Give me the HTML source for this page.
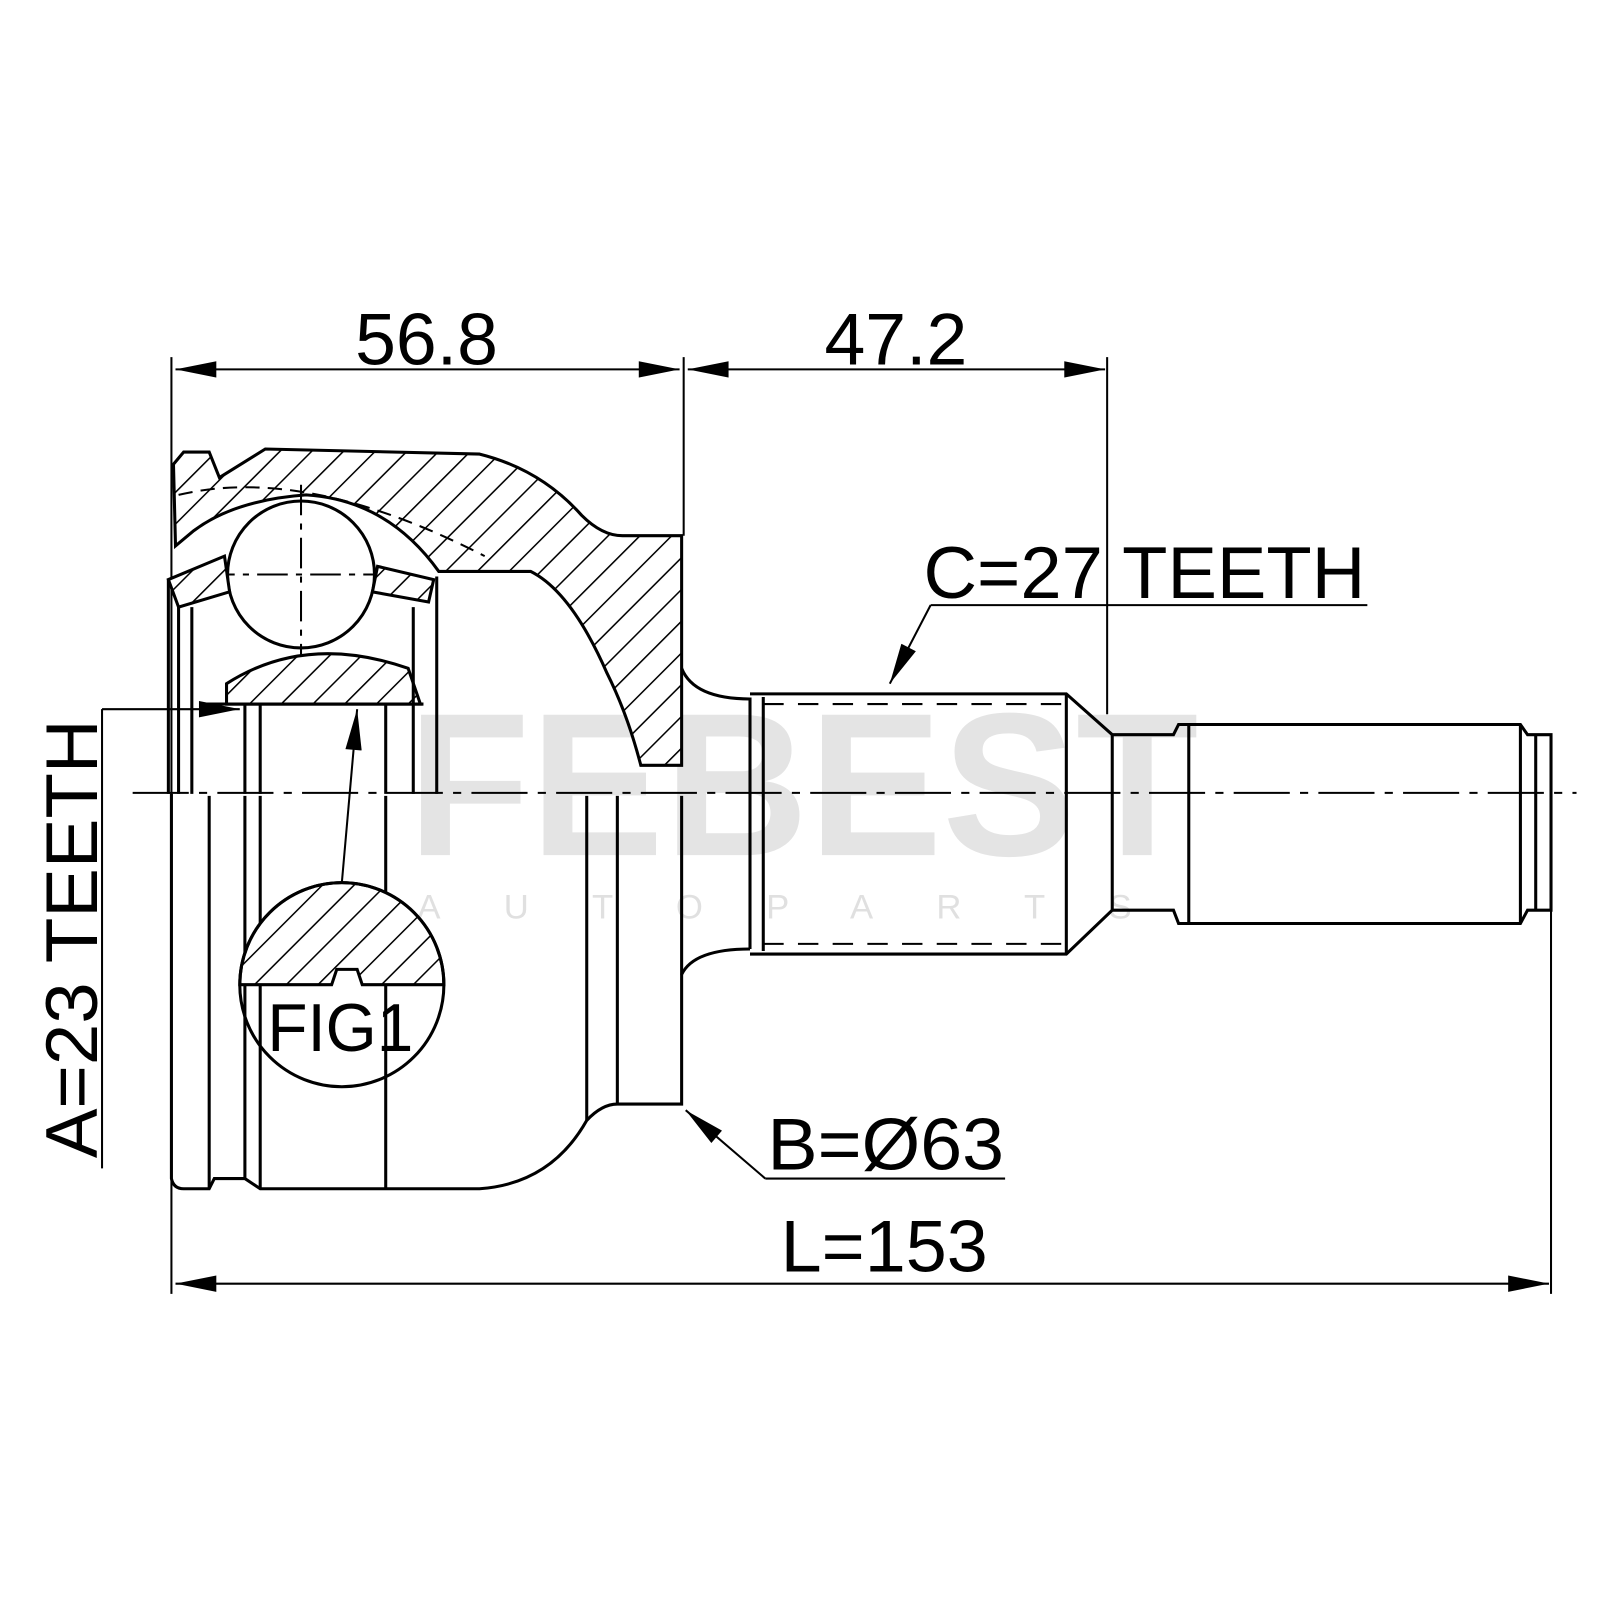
<!DOCTYPE html>
<html><head><meta charset="utf-8"><style>html,body{margin:0;padding:0;background:#fff}svg{display:block}</style></head>
<body>
<svg width="1600" height="1600" viewBox="0 0 1568 1568" xmlns="http://www.w3.org/2000/svg" font-family="Liberation Sans, Arial, sans-serif">
<defs>
<pattern id="h" width="22" height="22" patternUnits="userSpaceOnUse" patternTransform="rotate(45)">
<rect width="22" height="22" fill="#fff"/><line x1="0" y1="0" x2="0" y2="22" stroke="#000" stroke-width="3"/></pattern>
<marker id="a" viewBox="0 0 20 8" refX="20" refY="4" markerWidth="45" markerHeight="16" markerUnits="userSpaceOnUse" orient="auto-start-reverse"><path d="M0,0 L20,4 L0,8 z" fill="#000"/></marker>
</defs>
<text x="787" y="838" font-size="200" font-weight="bold" fill="#e4e4e4" text-anchor="middle" textLength="775" lengthAdjust="spacingAndGlyphs">FEBEST</text>
<text x="790" y="900" font-size="34" fill="#e0e0e0" text-anchor="middle" letter-spacing="62">AUTOPARTS</text>
<g stroke="#000" fill="none" stroke-width="3">
<line x1="168" y1="350" x2="168" y2="1268" stroke-width="2"/>
<line x1="670" y1="350" x2="670" y2="525" stroke-width="2"/>
<line x1="1085" y1="350" x2="1085" y2="700" stroke-width="2"/>
<line x1="1520" y1="890" x2="1520" y2="1268" stroke-width="2"/>
<line x1="172" y1="362" x2="666" y2="362" stroke-width="2" marker-end="url(#a)" marker-start="url(#a)"/>
<line x1="674" y1="362" x2="1083" y2="362" stroke-width="2" marker-end="url(#a)" marker-start="url(#a)"/>
<line x1="172" y1="1258" x2="1518" y2="1258" stroke-width="2" marker-end="url(#a)" marker-start="url(#a)"/>
<path d="M170,455 L180,443 L205,443 L215,468 L260,440 L470,445 Q530,460 570,505 Q590,525 610,525 L668,525 L668,750 L628,750 Q615,700 595,660 Q560,580 520,560 L430,560 Q380,490 300,485 Q230,490 190,520 L172,535 Z" fill="url(#h)"/>
<path d="M175,485 Q300,455 475,545" stroke-dasharray="14 8" stroke-width="2"/>
<circle cx="295" cy="563" r="72" fill="#fff"/>
<line x1="295" y1="475" x2="295" y2="650" stroke-width="2" stroke-dasharray="30 8 6 8"/>
<line x1="200" y1="563" x2="390" y2="563" stroke-width="2" stroke-dasharray="30 8 6 8"/>
<path d="M165,568 L220,545 L225,580 L175,595 Z" fill="url(#h)"/>
<path d="M370,555 L425,568 L420,590 L365,580 Z" fill="url(#h)"/>
<path d="M222,670 Q300,620 400,655 L412,690 L222,690 Z" fill="url(#h)"/>
<line x1="200" y1="690" x2="415" y2="690"/>
<line x1="175" y1="595" x2="175" y2="778"/><line x1="188" y1="595" x2="188" y2="778"/>
<line x1="405" y1="595" x2="405" y2="778"/><line x1="428" y1="565" x2="428" y2="778"/>
<line x1="240" y1="690" x2="240" y2="778"/><line x1="255" y1="690" x2="255" y2="778"/>
<line x1="378" y1="690" x2="378" y2="778"/>
<line x1="165" y1="568" x2="165" y2="778"/>
<path d="M168,778 L168,1155 Q170,1165 180,1165 L205,1165 L210,1155 L240,1155 L255,1165 L470,1165 Q540,1160 575,1098 Q590,1082 605,1082 L668,1082 L668,955 Q680,930 735,930"/>
<line x1="205" y1="780" x2="205" y2="1165"/><line x1="240" y1="780" x2="240" y2="1155"/>
<line x1="255" y1="780" x2="255" y2="1165"/><line x1="378" y1="780" x2="378" y2="1165"/>
<line x1="575" y1="780" x2="575" y2="1098"/><line x1="605" y1="780" x2="605" y2="1082"/>
<line x1="668" y1="780" x2="668" y2="955"/>
<path d="M668,655 Q680,685 735,685 L735,930"/>
<path d="M735,680 L1045,680 L1090,720 L1150,720 L1155,710 L1490,710 L1497,720 L1520,720 L1520,892 L1497,892 L1490,905 L1155,905 L1150,892 L1090,892 L1045,935 L735,935"/>
<line x1="748" y1="683" x2="748" y2="932"/><line x1="1045" y1="680" x2="1045" y2="935"/>
<line x1="1090" y1="720" x2="1090" y2="892"/><line x1="1165" y1="710" x2="1165" y2="905"/>
<line x1="1490" y1="710" x2="1490" y2="905"/><line x1="1505" y1="720" x2="1505" y2="892"/>
<line x1="748" y1="690" x2="1045" y2="690" stroke-width="2" stroke-dasharray="20 14"/>
<line x1="748" y1="925" x2="1045" y2="925" stroke-width="2" stroke-dasharray="20 14"/>
<line x1="130" y1="777" x2="1545" y2="777" stroke-width="2" stroke-dasharray="55 10 8 10"/>
<path d="M235,965 A100,100 0 0 1 435,965 L355,965 L350,950 L330,950 L325,965 Z" fill="url(#h)"/>
<circle cx="335" cy="965" r="100"/>
<line x1="335" y1="865" x2="350" y2="695" stroke-width="2" marker-end="url(#a)"/>
<line x1="100" y1="695" x2="100" y2="1145" stroke-width="2"/>
<line x1="100" y1="695" x2="235" y2="695" stroke-width="2" marker-end="url(#a)"/>
<line x1="1340" y1="593" x2="912" y2="593" stroke-width="2"/>
<line x1="912" y1="593" x2="872" y2="670" stroke-width="2" marker-end="url(#a)"/>
<line x1="985" y1="1155" x2="750" y2="1155" stroke-width="2"/>
<line x1="750" y1="1155" x2="672" y2="1088" stroke-width="2" marker-end="url(#a)"/>
</g>
<g font-size="72" fill="#000">
<text x="348" y="357" textLength="140" lengthAdjust="spacingAndGlyphs">56.8</text>
<text x="808" y="357" textLength="140" lengthAdjust="spacingAndGlyphs">47.2</text>
<text x="905" y="586" textLength="433" lengthAdjust="spacingAndGlyphs">C=27 TEETH</text>
<text x="752" y="1146" textLength="232" lengthAdjust="spacingAndGlyphs">B=Ø63</text>
<text x="765" y="1246" textLength="203" lengthAdjust="spacingAndGlyphs">L=153</text>
<text transform="translate(95,1135) rotate(-90)" textLength="430" lengthAdjust="spacingAndGlyphs">A=23 TEETH</text>
<text x="262" y="1030" font-size="66" textLength="143" lengthAdjust="spacingAndGlyphs">FIG1</text>
</g>
</svg>
</body></html>
